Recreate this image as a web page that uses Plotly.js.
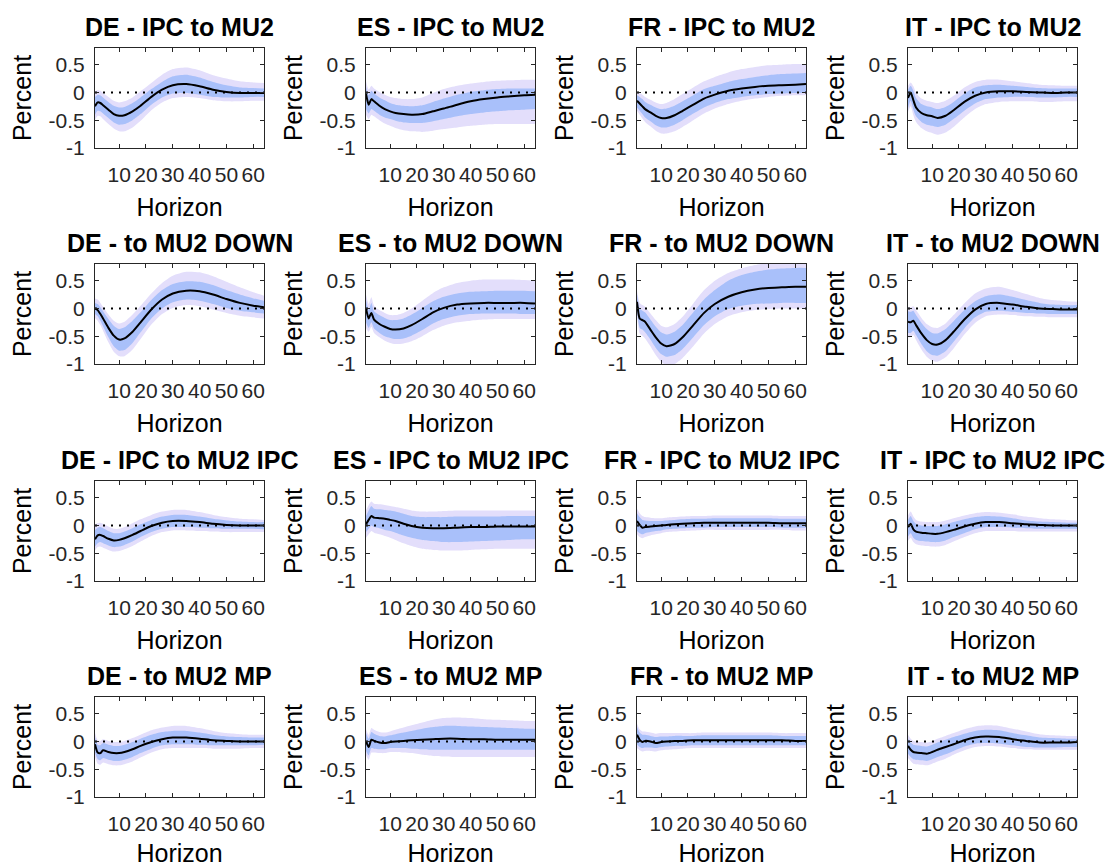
<!DOCTYPE html>
<html>
<head>
<meta charset="utf-8">
<script src="https://cdn.plot.ly/plotly-3.0.1.min.js"></script>
<style>
  html, body { margin: 0; padding: 0; background: #ffffff; }
  #chart { width: 1110px; height: 867px; }
</style>
</head>
<body>
<div id="chart"></div>
<script>
// ---------------- DATA ----------------
const horizon = [1,2,3,4,6,8,10,12,15,18,22,26,30,35,40,45,50,55,60,64];
const xTicks = [10,20,30,40,50,60];
const yTicks = [-1,-0.5,0,0.5];
const yTickText = ['-1','-0.5','0','0.5'];
const panelTitles = [
  'DE - IPC to MU2','ES - IPC to MU2','FR - IPC to MU2','IT - IPC to MU2',
  'DE - to MU2 DOWN','ES - to MU2 DOWN','FR - to MU2 DOWN','IT - to MU2 DOWN',
  'DE - IPC to MU2 IPC','ES - IPC to MU2 IPC','FR - IPC to MU2 IPC','IT - IPC to MU2 IPC',
  'DE - to MU2 MP','ES - to MU2 MP','FR - to MU2 MP','IT - to MU2 MP'
];

// DE - IPC to MU2
const p1_med   = [-0.25,-0.18,-0.19,-0.23,-0.31,-0.39,-0.42,-0.41,-0.34,-0.24,-0.08,0.05,0.13,0.15,0.11,0.05,0.01,-0.01,-0.01,-0.01];
const p1_inLo  = [-0.40,-0.33,-0.34,-0.38,-0.46,-0.54,-0.58,-0.57,-0.50,-0.39,-0.22,-0.09,-0.02,-0.01,-0.04,-0.08,-0.09,-0.09,-0.08,-0.08];
const p1_inHi  = [-0.08,-0.04,-0.05,-0.09,-0.17,-0.24,-0.27,-0.26,-0.19,-0.09,0.06,0.19,0.29,0.32,0.27,0.19,0.13,0.09,0.08,0.07];
const p1_outLo = [-0.50,-0.42,-0.43,-0.48,-0.57,-0.65,-0.70,-0.70,-0.63,-0.51,-0.32,-0.18,-0.10,-0.08,-0.10,-0.14,-0.16,-0.16,-0.15,-0.15];
const p1_outHi = [0.02,0.04,0.03,-0.01,-0.08,-0.15,-0.18,-0.16,-0.09,0.02,0.17,0.32,0.42,0.45,0.40,0.31,0.25,0.20,0.18,0.17];

// ES - IPC to MU2
const p2_med   = [-0.02,-0.22,-0.12,-0.16,-0.24,-0.30,-0.34,-0.37,-0.39,-0.40,-0.39,-0.34,-0.29,-0.22,-0.16,-0.12,-0.09,-0.07,-0.05,-0.04];
const p2_inLo  = [-0.30,-0.38,-0.30,-0.33,-0.40,-0.45,-0.48,-0.51,-0.54,-0.55,-0.55,-0.52,-0.48,-0.43,-0.39,-0.36,-0.34,-0.32,-0.31,-0.30];
const p2_inHi  = [0.10,-0.05,0.03,-0.02,-0.09,-0.14,-0.19,-0.22,-0.24,-0.25,-0.23,-0.17,-0.11,-0.04,0.01,0.04,0.06,0.07,0.07,0.07];
const p2_outLo = [-0.40,-0.48,-0.40,-0.43,-0.50,-0.56,-0.60,-0.64,-0.68,-0.70,-0.71,-0.69,-0.66,-0.63,-0.60,-0.58,-0.57,-0.57,-0.57,-0.57];
const p2_outHi = [0.20,0.05,0.12,0.07,0.01,-0.04,-0.08,-0.10,-0.12,-0.12,-0.09,-0.01,0.06,0.12,0.16,0.19,0.21,0.22,0.23,0.23];

// FR - IPC to MU2
const p3_med   = [-0.15,-0.20,-0.25,-0.30,-0.36,-0.42,-0.46,-0.46,-0.41,-0.33,-0.22,-0.11,-0.04,0.03,0.07,0.10,0.12,0.13,0.14,0.15];
const p3_inLo  = [-0.27,-0.33,-0.39,-0.45,-0.52,-0.59,-0.63,-0.63,-0.58,-0.50,-0.38,-0.27,-0.19,-0.12,-0.08,-0.05,-0.03,-0.02,-0.01,-0.01];
const p3_inHi  = [-0.05,-0.08,-0.12,-0.17,-0.22,-0.27,-0.30,-0.29,-0.24,-0.16,-0.05,0.06,0.12,0.19,0.24,0.28,0.31,0.33,0.34,0.35];
const p3_outLo = [-0.33,-0.40,-0.47,-0.53,-0.61,-0.69,-0.74,-0.74,-0.70,-0.62,-0.50,-0.38,-0.29,-0.21,-0.15,-0.11,-0.08,-0.06,-0.05,-0.05];
const p3_outHi = [0.02,-0.01,-0.04,-0.08,-0.13,-0.18,-0.21,-0.19,-0.12,-0.03,0.09,0.20,0.28,0.36,0.42,0.46,0.49,0.50,0.51,0.51];

// IT - IPC to MU2
const p4_med   = [-0.10,0.00,-0.14,-0.27,-0.37,-0.41,-0.43,-0.46,-0.42,-0.32,-0.17,-0.06,0.00,0.02,0.02,0.01,0.00,-0.01,0.00,0.00];
const p4_inLo  = [-0.28,-0.15,-0.31,-0.43,-0.53,-0.58,-0.60,-0.62,-0.58,-0.48,-0.33,-0.20,-0.12,-0.09,-0.08,-0.08,-0.09,-0.09,-0.08,-0.08];
const p4_inHi  = [0.05,0.12,0.03,-0.10,-0.21,-0.25,-0.27,-0.30,-0.26,-0.17,-0.02,0.09,0.13,0.14,0.12,0.10,0.08,0.07,0.07,0.07];
const p4_outLo = [-0.35,-0.25,-0.41,-0.53,-0.64,-0.70,-0.73,-0.76,-0.72,-0.62,-0.45,-0.30,-0.21,-0.17,-0.16,-0.16,-0.17,-0.17,-0.16,-0.16];
const p4_outHi = [0.12,0.18,0.11,-0.01,-0.11,-0.15,-0.17,-0.19,-0.15,-0.06,0.09,0.19,0.23,0.23,0.20,0.17,0.14,0.13,0.12,0.12];

// DE - to MU2 DOWN
const p5_med   = [0.00,-0.03,-0.10,-0.18,-0.35,-0.49,-0.56,-0.54,-0.42,-0.25,-0.02,0.16,0.27,0.32,0.31,0.25,0.17,0.10,0.05,0.02];
const p5_inLo  = [-0.10,-0.14,-0.22,-0.32,-0.52,-0.68,-0.76,-0.75,-0.62,-0.43,-0.18,0.00,0.11,0.16,0.14,0.08,0.01,-0.04,-0.07,-0.09];
const p5_inHi  = [0.10,0.08,0.02,-0.05,-0.19,-0.31,-0.37,-0.34,-0.22,-0.07,0.15,0.33,0.44,0.49,0.48,0.42,0.33,0.25,0.18,0.14];
const p5_outLo = [-0.17,-0.22,-0.30,-0.40,-0.61,-0.78,-0.86,-0.86,-0.74,-0.55,-0.29,-0.10,0.01,0.06,0.04,-0.02,-0.08,-0.13,-0.16,-0.18];
const p5_outHi = [0.18,0.16,0.10,0.03,-0.11,-0.22,-0.27,-0.24,-0.11,0.05,0.27,0.46,0.59,0.66,0.65,0.58,0.48,0.38,0.29,0.23];

// ES - to MU2 DOWN
const p6_med   = [0.00,-0.18,-0.08,-0.20,-0.28,-0.33,-0.37,-0.38,-0.36,-0.30,-0.19,-0.07,0.01,0.07,0.09,0.10,0.10,0.10,0.10,0.09];
const p6_inLo  = [-0.25,-0.35,-0.25,-0.36,-0.44,-0.50,-0.53,-0.55,-0.54,-0.49,-0.39,-0.27,-0.19,-0.13,-0.10,-0.09,-0.09,-0.09,-0.10,-0.10];
const p6_inHi  = [0.15,-0.03,0.10,-0.05,-0.12,-0.17,-0.21,-0.21,-0.18,-0.11,0.01,0.13,0.21,0.27,0.30,0.31,0.32,0.32,0.32,0.31];
const p6_outLo = [-0.35,-0.42,-0.33,-0.44,-0.52,-0.58,-0.62,-0.64,-0.63,-0.59,-0.50,-0.39,-0.31,-0.25,-0.22,-0.20,-0.19,-0.19,-0.19,-0.19];
const p6_outHi = [0.25,0.08,0.20,0.05,-0.03,-0.08,-0.12,-0.12,-0.08,0.00,0.14,0.28,0.38,0.46,0.50,0.52,0.52,0.52,0.51,0.50];

// FR - to MU2 DOWN
const p7_med   = [0.12,-0.18,-0.21,-0.24,-0.38,-0.52,-0.63,-0.68,-0.64,-0.52,-0.30,-0.08,0.08,0.21,0.29,0.34,0.37,0.38,0.39,0.39];
const p7_inLo  = [-0.02,-0.35,-0.38,-0.43,-0.56,-0.71,-0.82,-0.87,-0.84,-0.73,-0.52,-0.30,-0.14,-0.01,0.05,0.08,0.09,0.10,0.10,0.10];
const p7_inHi  = [0.25,0.00,-0.04,-0.07,-0.20,-0.33,-0.43,-0.47,-0.42,-0.30,-0.07,0.16,0.33,0.50,0.60,0.66,0.70,0.72,0.73,0.73];
const p7_outLo = [-0.10,-0.45,-0.49,-0.54,-0.68,-0.84,-0.96,-1.02,-1.00,-0.89,-0.68,-0.45,-0.28,-0.14,-0.07,-0.03,-0.01,0.00,0.00,0.00];
const p7_outHi = [0.32,0.10,0.06,0.03,-0.09,-0.21,-0.31,-0.34,-0.28,-0.15,0.09,0.33,0.50,0.64,0.72,0.78,0.82,0.84,0.85,0.85];

// IT - to MU2 DOWN
const p8_med   = [-0.24,-0.25,-0.22,-0.30,-0.45,-0.57,-0.64,-0.65,-0.57,-0.42,-0.20,-0.02,0.08,0.10,0.07,0.03,0.00,-0.01,-0.02,-0.02];
const p8_inLo  = [-0.44,-0.44,-0.40,-0.48,-0.64,-0.77,-0.84,-0.85,-0.77,-0.60,-0.36,-0.16,-0.06,-0.04,-0.06,-0.08,-0.09,-0.10,-0.10,-0.10];
const p8_inHi  = [-0.05,-0.06,-0.04,-0.12,-0.26,-0.37,-0.44,-0.45,-0.37,-0.23,-0.03,0.13,0.22,0.25,0.21,0.15,0.10,0.07,0.06,0.06];
const p8_outLo = [-0.52,-0.52,-0.48,-0.57,-0.74,-0.87,-0.94,-0.96,-0.88,-0.72,-0.47,-0.26,-0.14,-0.11,-0.12,-0.14,-0.15,-0.16,-0.16,-0.16];
const p8_outHi = [0.03,0.02,0.04,-0.03,-0.17,-0.28,-0.34,-0.35,-0.27,-0.12,0.09,0.27,0.36,0.39,0.33,0.26,0.19,0.15,0.13,0.12];

// DE - IPC to MU2 IPC
const p9_med   = [-0.25,-0.18,-0.17,-0.19,-0.24,-0.27,-0.26,-0.23,-0.17,-0.10,-0.01,0.05,0.08,0.08,0.06,0.03,0.01,0.00,0.00,0.00];
const p9_inLo  = [-0.38,-0.32,-0.30,-0.32,-0.36,-0.39,-0.38,-0.35,-0.29,-0.21,-0.12,-0.06,-0.03,-0.03,-0.04,-0.05,-0.06,-0.06,-0.06,-0.07];
const p9_inHi  = [-0.08,-0.04,-0.03,-0.05,-0.10,-0.14,-0.14,-0.11,-0.05,0.02,0.10,0.16,0.19,0.19,0.16,0.12,0.09,0.07,0.06,0.06];
const p9_outLo = [-0.45,-0.39,-0.38,-0.40,-0.44,-0.47,-0.46,-0.43,-0.37,-0.29,-0.19,-0.12,-0.09,-0.09,-0.10,-0.11,-0.12,-0.12,-0.12,-0.12];
const p9_outHi = [0.02,0.04,0.05,0.03,-0.02,-0.06,-0.06,-0.03,0.04,0.11,0.19,0.25,0.28,0.28,0.24,0.19,0.15,0.12,0.11,0.10];

// ES - IPC to MU2 IPC
const p10_med   = [0.02,0.10,0.17,0.14,0.13,0.12,0.10,0.08,0.03,-0.01,-0.04,-0.05,-0.05,-0.04,-0.03,-0.03,-0.02,-0.02,-0.02,-0.02];
const p10_inLo  = [-0.12,-0.06,0.00,-0.03,-0.05,-0.08,-0.10,-0.13,-0.18,-0.22,-0.26,-0.28,-0.30,-0.30,-0.29,-0.28,-0.27,-0.26,-0.25,-0.25];
const p10_inHi  = [0.17,0.27,0.35,0.30,0.29,0.28,0.27,0.25,0.21,0.17,0.15,0.15,0.15,0.16,0.16,0.16,0.16,0.17,0.17,0.17];
const p10_outLo = [-0.22,-0.16,-0.10,-0.13,-0.16,-0.19,-0.22,-0.26,-0.32,-0.37,-0.42,-0.44,-0.45,-0.45,-0.44,-0.43,-0.42,-0.42,-0.42,-0.42];
const p10_outHi = [0.27,0.37,0.43,0.39,0.38,0.37,0.35,0.33,0.30,0.27,0.25,0.25,0.26,0.27,0.27,0.27,0.27,0.27,0.27,0.27];

// FR - IPC to MU2 IPC
const p11_med   = [0.08,0.01,-0.04,-0.03,-0.02,-0.01,0.00,0.01,0.02,0.03,0.04,0.05,0.05,0.05,0.05,0.05,0.05,0.04,0.04,0.04];
const p11_inLo  = [-0.10,-0.14,-0.16,-0.14,-0.12,-0.10,-0.09,-0.07,-0.06,-0.05,-0.04,-0.04,-0.03,-0.03,-0.03,-0.03,-0.03,-0.04,-0.04,-0.04];
const p11_inHi  = [0.22,0.15,0.10,0.09,0.08,0.08,0.08,0.09,0.10,0.11,0.12,0.12,0.13,0.13,0.13,0.13,0.13,0.12,0.12,0.12];
const p11_outLo = [-0.16,-0.21,-0.23,-0.21,-0.18,-0.16,-0.14,-0.12,-0.11,-0.10,-0.09,-0.08,-0.08,-0.08,-0.08,-0.08,-0.08,-0.08,-0.09,-0.09];
const p11_outHi = [0.30,0.22,0.17,0.15,0.14,0.13,0.13,0.14,0.15,0.16,0.17,0.17,0.18,0.18,0.18,0.18,0.18,0.17,0.17,0.17];

// IT - IPC to MU2 IPC
const p12_med   = [-0.03,0.03,-0.07,-0.11,-0.13,-0.14,-0.15,-0.15,-0.12,-0.08,-0.02,0.03,0.06,0.06,0.04,0.02,0.01,0.00,0.00,0.00];
const p12_inLo  = [-0.20,-0.14,-0.22,-0.26,-0.28,-0.29,-0.30,-0.30,-0.27,-0.21,-0.14,-0.07,-0.03,-0.03,-0.04,-0.05,-0.06,-0.06,-0.06,-0.06];
const p12_inHi  = [0.10,0.17,0.08,0.03,0.00,-0.01,-0.01,-0.01,0.02,0.06,0.11,0.15,0.17,0.16,0.13,0.09,0.07,0.06,0.05,0.05];
const p12_outLo = [-0.28,-0.22,-0.30,-0.34,-0.36,-0.37,-0.38,-0.38,-0.35,-0.29,-0.21,-0.14,-0.10,-0.10,-0.10,-0.11,-0.11,-0.11,-0.11,-0.11];
const p12_outHi = [0.18,0.25,0.16,0.10,0.07,0.06,0.06,0.06,0.09,0.13,0.18,0.22,0.24,0.23,0.20,0.16,0.13,0.11,0.10,0.09];

// DE - to MU2 MP
const p13_med   = [-0.05,-0.20,-0.21,-0.16,-0.19,-0.21,-0.21,-0.19,-0.14,-0.08,-0.01,0.04,0.07,0.07,0.05,0.02,0.01,0.00,0.00,0.00];
const p13_inLo  = [-0.20,-0.32,-0.34,-0.30,-0.33,-0.35,-0.35,-0.33,-0.28,-0.21,-0.13,-0.07,-0.05,-0.05,-0.06,-0.07,-0.07,-0.07,-0.07,-0.06];
const p13_inHi  = [0.07,-0.06,-0.07,-0.03,-0.06,-0.08,-0.08,-0.06,-0.01,0.05,0.12,0.17,0.19,0.19,0.16,0.12,0.09,0.08,0.07,0.07];
const p13_outLo = [-0.28,-0.40,-0.42,-0.38,-0.41,-0.43,-0.43,-0.41,-0.36,-0.29,-0.20,-0.14,-0.12,-0.12,-0.12,-0.13,-0.13,-0.13,-0.12,-0.12];
const p13_outHi = [0.15,0.02,0.01,0.04,0.01,-0.01,-0.01,0.01,0.06,0.12,0.20,0.25,0.28,0.28,0.24,0.19,0.15,0.13,0.12,0.12];

// ES - to MU2 MP
const p14_med   = [0.00,-0.10,0.03,0.01,-0.02,-0.03,-0.01,0.00,0.01,0.02,0.03,0.04,0.05,0.05,0.04,0.04,0.03,0.03,0.03,0.03];
const p14_inLo  = [-0.17,-0.25,-0.12,-0.13,-0.14,-0.14,-0.12,-0.12,-0.12,-0.13,-0.14,-0.15,-0.15,-0.15,-0.15,-0.15,-0.15,-0.15,-0.15,-0.15];
const p14_inHi  = [0.15,0.05,0.17,0.14,0.10,0.09,0.11,0.13,0.16,0.19,0.23,0.26,0.28,0.28,0.27,0.26,0.25,0.24,0.23,0.23];
const p14_outLo = [-0.25,-0.33,-0.20,-0.20,-0.21,-0.21,-0.19,-0.19,-0.20,-0.21,-0.24,-0.26,-0.27,-0.28,-0.28,-0.28,-0.28,-0.28,-0.28,-0.28];
const p14_outHi = [0.22,0.12,0.24,0.21,0.17,0.16,0.18,0.21,0.25,0.29,0.34,0.39,0.42,0.43,0.42,0.40,0.39,0.38,0.37,0.37];

// FR - to MU2 MP
const p15_med   = [0.12,0.03,-0.01,0.01,0.00,-0.03,-0.01,0.00,0.01,0.01,0.02,0.02,0.02,0.02,0.02,0.02,0.02,0.02,0.01,0.01];
const p15_inLo  = [-0.05,-0.10,-0.12,-0.11,-0.11,-0.12,-0.10,-0.09,-0.08,-0.08,-0.07,-0.07,-0.07,-0.07,-0.07,-0.07,-0.07,-0.07,-0.07,-0.07];
const p15_inHi  = [0.26,0.16,0.12,0.12,0.10,0.08,0.09,0.09,0.10,0.10,0.10,0.11,0.11,0.11,0.11,0.11,0.11,0.10,0.10,0.10];
const p15_outLo = [-0.12,-0.16,-0.18,-0.17,-0.17,-0.18,-0.16,-0.15,-0.14,-0.13,-0.12,-0.12,-0.12,-0.12,-0.12,-0.12,-0.12,-0.12,-0.12,-0.12];
const p15_outHi = [0.32,0.22,0.18,0.18,0.16,0.14,0.15,0.15,0.15,0.15,0.15,0.16,0.16,0.16,0.16,0.16,0.16,0.15,0.15,0.15];

// IT - to MU2 MP
const p16_med   = [-0.08,-0.15,-0.19,-0.20,-0.21,-0.22,-0.19,-0.15,-0.10,-0.05,0.02,0.07,0.09,0.08,0.04,0.01,-0.02,-0.02,-0.02,-0.01];
const p16_inLo  = [-0.22,-0.28,-0.32,-0.33,-0.34,-0.35,-0.32,-0.28,-0.23,-0.17,-0.09,-0.04,-0.03,-0.04,-0.07,-0.10,-0.11,-0.11,-0.10,-0.10];
const p16_inHi  = [0.05,-0.02,-0.06,-0.07,-0.08,-0.09,-0.06,-0.02,0.03,0.08,0.14,0.19,0.21,0.20,0.15,0.11,0.07,0.06,0.05,0.05];
const p16_outLo = [-0.30,-0.35,-0.40,-0.41,-0.42,-0.43,-0.40,-0.36,-0.31,-0.24,-0.16,-0.10,-0.08,-0.09,-0.12,-0.14,-0.15,-0.15,-0.15,-0.15];
const p16_outHi = [0.12,0.05,0.01,0.00,-0.01,-0.02,0.01,0.05,0.10,0.15,0.22,0.27,0.29,0.28,0.23,0.18,0.13,0.11,0.10,0.10];

const panels = [
  [p1_med,p1_inLo,p1_inHi,p1_outLo,p1_outHi],
  [p2_med,p2_inLo,p2_inHi,p2_outLo,p2_outHi],
  [p3_med,p3_inLo,p3_inHi,p3_outLo,p3_outHi],
  [p4_med,p4_inLo,p4_inHi,p4_outLo,p4_outHi],
  [p5_med,p5_inLo,p5_inHi,p5_outLo,p5_outHi],
  [p6_med,p6_inLo,p6_inHi,p6_outLo,p6_outHi],
  [p7_med,p7_inLo,p7_inHi,p7_outLo,p7_outHi],
  [p8_med,p8_inLo,p8_inHi,p8_outLo,p8_outHi],
  [p9_med,p9_inLo,p9_inHi,p9_outLo,p9_outHi],
  [p10_med,p10_inLo,p10_inHi,p10_outLo,p10_outHi],
  [p11_med,p11_inLo,p11_inHi,p11_outLo,p11_outHi],
  [p12_med,p12_inLo,p12_inHi,p12_outLo,p12_outHi],
  [p13_med,p13_inLo,p13_inHi,p13_outLo,p13_outHi],
  [p14_med,p14_inLo,p14_inHi,p14_outLo,p14_outHi],
  [p15_med,p15_inLo,p15_inHi,p15_outLo,p15_outHi],
  [p16_med,p16_inLo,p16_inHi,p16_outLo,p16_outHi]
];

// ---------------- LAYOUT / STYLE ----------------
const W = 1110, H = 867;
const colLeft = [95, 366, 637, 908];
const rowTop = [48, 264, 481, 697];
const plotW = 169, plotH = 100;
const FONT = '"Liberation Sans", Arial, Helvetica, sans-serif';
const outerColor = '#e3defb';
const innerColor = '#a9c0fa';
const axisColor = '#262626';

const traces = [];
const layout = {
  width: W, height: H,
  margin: {l: 0, r: 0, t: 0, b: 0},
  paper_bgcolor: '#ffffff',
  plot_bgcolor: '#ffffff',
  showlegend: false,
  annotations: [],
  font: {family: FONT, color: axisColor}
};

panels.forEach((p, i) => {
  const r = Math.floor(i / 4), c = i % 4;
  const n = i + 1;
  const xa = 'x' + (n === 1 ? '' : n);
  const ya = 'y' + (n === 1 ? '' : n);
  const [med, inLo, inHi, outLo, outHi] = p;
  const common = {x: horizon, xaxis: xa, yaxis: ya, mode: 'lines', hoverinfo: 'skip'};
  const sp = {width: 0, shape: 'spline', smoothing: 0.6};
  traces.push(Object.assign({}, common, {y: outLo, line: sp}));
  traces.push(Object.assign({}, common, {y: outHi, line: sp, fill: 'tonexty', fillcolor: outerColor}));
  traces.push(Object.assign({}, common, {y: inLo, line: sp}));
  traces.push(Object.assign({}, common, {y: inHi, line: sp, fill: 'tonexty', fillcolor: innerColor}));
  traces.push(Object.assign({}, common, {x: [horizon[0], horizon[horizon.length - 1]], y: [0, 0], line: {color: '#000000', width: 2, dash: '2px,6px'}}));
  traces.push(Object.assign({}, common, {y: med, line: {color: '#000000', width: 2, shape: 'spline', smoothing: 0.6}}));

  const L = colLeft[c], T = rowTop[r];
  const xKey = 'xaxis' + (n === 1 ? '' : n);
  const yKey = 'yaxis' + (n === 1 ? '' : n);
  layout[xKey] = {
    domain: [L / W, (L + plotW) / W],
    anchor: ya,
    range: [1, 64],
    tickmode: 'array', tickvals: xTicks,
    ticks: 'inside', ticklen: 4, tickwidth: 1, tickcolor: axisColor,
    showline: true, linecolor: axisColor, linewidth: 1, mirror: 'ticks',
    showgrid: false, zeroline: false,
    tickfont: {family: FONT, size: 21, color: axisColor},
    ticklabelstandoff: 8,
    title: {text: 'Horizon', font: {family: FONT, size: 25, color: '#000000'}, standoff: 13},
    fixedrange: true
  };
  layout[yKey] = {
    domain: [1 - (T + plotH) / H, 1 - T / H],
    anchor: xa,
    range: [-1, 0.8],
    tickmode: 'array', tickvals: yTicks, ticktext: yTickText,
    ticks: 'inside', ticklen: 4, tickwidth: 1, tickcolor: axisColor,
    showline: true, linecolor: axisColor, linewidth: 1, mirror: 'ticks',
    showgrid: false, zeroline: false,
    tickfont: {family: FONT, size: 21, color: axisColor},
    ticklabelstandoff: 5,
    title: {text: 'Percent', font: {family: FONT, size: 25, color: '#000000'}, standoff: 9},
    fixedrange: true
  };
  layout.annotations.push({
    text: '<b>' + panelTitles[i] + '</b>',
    xref: 'paper', yref: 'paper',
    x: (L + plotW / 2) / W, y: 1 - (T - 21) / H,
    xanchor: 'center', yanchor: 'middle',
    showarrow: false,
    font: {family: FONT, size: 25, color: '#000000'}
  });
});

Plotly.newPlot('chart', traces, layout, {displayModeBar: false, staticPlot: true});
</script>
</body>
</html>
